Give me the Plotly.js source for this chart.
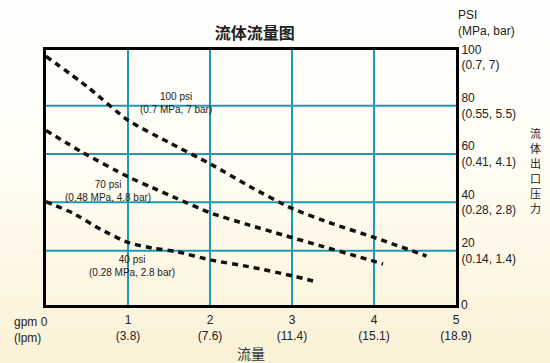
<!DOCTYPE html>
<html>
<head>
<meta charset="utf-8">
<script src="https://cdn.plot.ly/plotly-3.0.1.min.js"></script>
<style>
html, body { margin:0; padding:0; width:550px; height:363px; overflow:hidden;
  background: linear-gradient(to bottom, #ffffff 0%, #fffdf4 45%, #fbf1d6 100%); }
#chart { width:550px; height:363px; }
</style>
</head>
<body>
<div id="chart"></div>
<script>
// Flow (gpm) vs outlet pressure (psi) curves
const flow100 = [0, 0.5, 1, 1.5, 2, 2.5, 3, 3.5, 4, 4.64];
const psi100  = [100.5, 88, 74, 64.8, 56, 46.3, 37.5, 31.1, 25.5, 17.8];
const flow70  = [0, 0.43, 1, 1.27, 1.59, 2, 2.44, 2.89, 3.34, 3.78, 4.11];
const psi70   = [69.8, 61, 50.6, 46.5, 41.7, 35.7, 31.0, 26.5, 22.1, 17.8, 14.5];
const flow40  = [0, 0.33, 0.68, 1, 1.31, 1.59, 2, 2.47, 3.04, 3.27];
const psi40   = [40.3, 35.5, 28.6, 23.4, 21, 19.6, 16.2, 13.4, 9.3, 7.3];

const xTickVals = [1, 2, 3, 4, 5];
const xTickText = ["1<br>(3.8)", "2<br>(7.6)", "3<br>(11.4)", "4<br>(15.1)", "5<br>(18.9)"];
const yTickVals = [20, 40, 60, 80, 100];
const yTickText = ["20<br>(0.14, 1.4)", "40<br>(0.28, 2.8)", "60<br>(0.41, 4.1)", "80<br>(0.55, 5.5)", "100<br>(0.7, 7)"];
const yGridVals = [20, 40, 60, 80];
const yTitleChars = ["流", "体", "出", "口", "压", "力"];

const curveLabels = ["100 psi<br>(0.7 MPa, 7 bar)", "70 psi<br>(0.48 MPa, 4.8 bar)", "40 psi<br>(0.28 MPa, 2.8 bar)"];
const labelX = [1.585, 0.756, 1.043];
const labelY = [81.3, 44.7, 13.5];

const teal = '#1e9bb4';
const latin = 'Liberation Sans, Arial, sans-serif';
const cjk = 'Noto Sans CJK SC, sans-serif';

const lineStyle = {color: '#111', width: 3.5, dash: '6px,5px', shape: 'spline', smoothing: 0.6};
const traces = [
  {x: flow100, y: psi100, mode: 'lines', line: lineStyle, hoverinfo: 'skip'},
  {x: flow70,  y: psi70,  mode: 'lines', line: lineStyle, hoverinfo: 'skip'},
  {x: flow40,  y: psi40,  mode: 'lines', line: lineStyle, hoverinfo: 'skip'}
];

const shapes = yGridVals.map(v => ({
  type: 'line', xref: 'paper', x0: 0, x1: 1, yref: 'y', y0: v, y1: v,
  line: {color: teal, width: 2}, layer: 'below'
}));

const annotations = curveLabels.map((t, i) => ({
  text: t, x: labelX[i], y: labelY[i], xref: 'x', yref: 'y', showarrow: false,
  font: {family: latin, size: 10, color: '#222'}, align: 'center'
}));
// vertical y-axis title, one character per line
yTitleChars.forEach((c, i) => annotations.push({
  text: c, xref: 'paper', x: 1, xshift: 79, xanchor: 'center',
  yref: 'paper', y: 0.5, yanchor: 'middle', yshift: 45 - i * 15, borderpad: 0,
  showarrow: false, font: {family: cjk, size: 11, color: '#222'}
}));
annotations.push(
  {text: 'gpm 0<br>(lpm)', xref: 'x', x: 0, xanchor: 'right', xshift: 4, yref: 'paper', y: 0, yanchor: 'top', yshift: -8,
   showarrow: false, align: 'left', font: {family: latin, size: 12, color: '#222'}},
  {text: '0', xref: 'paper', x: 1, xanchor: 'left', xshift: 3, yref: 'paper', y: 0, yanchor: 'middle',
   showarrow: false, font: {family: latin, size: 12, color: '#222'}},
  {text: 'PSI<br>(MPa, bar)', xref: 'paper', x: 1, xanchor: 'left', xshift: 0, yref: 'paper', y: 1, yanchor: 'middle', yshift: 27,
   showarrow: false, align: 'left', font: {family: latin, size: 12, color: '#222'}},
  {text: '流量', xref: 'paper', x: 0.5, xanchor: 'center', yref: 'paper', y: 0, yanchor: 'middle', yshift: -48,
   showarrow: false, font: {family: cjk, size: 14, color: '#333'}}
);

const layout = {
  width: 550, height: 363,
  margin: {l: 46, r: 94, t: 50, b: 58},
  paper_bgcolor: 'rgba(0,0,0,0)', plot_bgcolor: 'rgba(0,0,0,0)',
  showlegend: false,
  title: {text: '<b>流体流量图</b>', x: 0.509, xref: 'paper', xanchor: 'center', y: 0.908, yref: 'container', yanchor: 'middle',
    font: {family: cjk, size: 16, color: '#222'}},
  xaxis: {range: [0, 5], tickvals: xTickVals, ticktext: xTickText, ticks: '', ticklabelstandoff: 2,
    showgrid: true, gridcolor: teal, gridwidth: 2, zeroline: false,
    showline: true, linecolor: '#000', linewidth: 3, mirror: true,
    tickfont: {family: latin, size: 12, color: '#222'}, fixedrange: true},
  yaxis: {range: [-2.5, 103.1], side: 'right', tickvals: yTickVals, ticktext: yTickText, ticks: '',
    showgrid: false, zeroline: false,
    showline: true, linecolor: '#000', linewidth: 3, mirror: true,
    tickfont: {family: latin, size: 12, color: '#222'}, fixedrange: true},
  shapes: shapes,
  annotations: annotations
};

Plotly.newPlot('chart', traces, layout, {staticPlot: true, displayModeBar: false});
</script>
</body>
</html>
